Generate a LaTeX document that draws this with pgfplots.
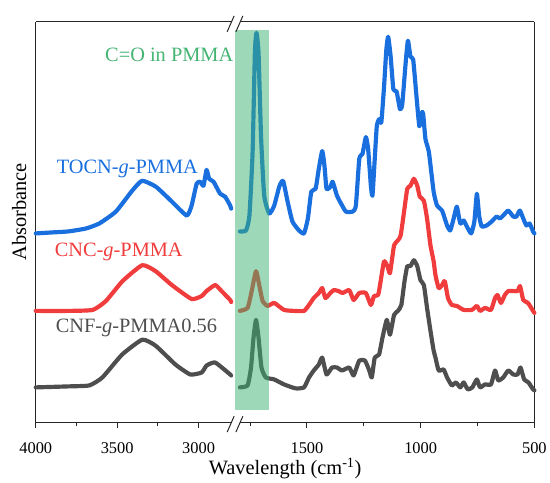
\documentclass[border=0pt]{standalone}
\usepackage{pgfplots}
\pgfplotsset{compat=1.18}
\usepackage{fontspec}
\setmainfont{Liberation Serif}
\usetikzlibrary{calc}

\definecolor{tocn}{RGB}{26,111,223}
\definecolor{cnc}{RGB}{240,60,60}
\definecolor{cnf}{RGB}{78,78,78}
\definecolor{band}{RGB}{60,179,113}
\definecolor{bandtxt}{RGB}{70,180,115}

\newcommand{\lblfont}{\fontsize{20.5}{24}\selectfont}

\pgfplotsset{
  brk/.style={
    scale only axis, height=403pt,
    ymin=0, ymax=403, ytick=\empty,
    x dir=reverse,
    axis x line*=box,
    xtick pos=left, xtick align=outside,
    major tick length=6pt, minor tick length=4pt,
    axis line style={line width=1pt, black!85},
    tick style={line width=1pt, black!85},
    /pgf/number format/1000 sep={},
    /pgf/number format/assume math mode=true,
    xticklabel style={font=\fontsize{16.5}{18}\selectfont, yshift=-11.5pt},
    clip=false,
  },
  spec/.style={line width=4.2pt, line join=round, line cap=round, smooth, tension=0.3},
}

\begin{document}
\begin{tikzpicture}
% left segment, 4000-2780 cm-1
\begin{axis}[brk, name=L, at={(0,0)}, anchor=south west,
  width=200pt, xmin=2780, xmax=4000,
  axis y line*=left,
  xtick={4000,3500,3000}, minor xtick={3750,3250}]
\addplot[spec, tocn] coordinates {
 (4000,190) (3900,191) (3800,192) (3691,195) (3610,200) (3508,212) (3408,233)
 (3347,243) (3262,237) (3164,222) (3073,208) (3043,218) (3012,240) (2990,242)
 (2970,238) (2951,254) (2935,245) (2908,242) (2868,230) (2837,227) (2806,218) (2800,215)
};
\addplot[spec, cnc] coordinates {
 (4000,112) (3800,112) (3650,113) (3569,122) (3467,142) (3346,158) (3264,152)
 (3164,138) (3043,124) (2981,127) (2951,132) (2898,138) (2859,132) (2806,123) (2800,121)
};
\addplot[spec, cnf] coordinates {
 (4000,35) (3800,36) (3671,37) (3591,45) (3470,68) (3346,83) (3264,77) (3142,58)
 (3051,48) (2981,50) (2951,57) (2898,60) (2806,48) (2800,47)
};
\node[anchor=base west, text=tocn, font=\lblfont, inner sep=0pt] at (axis cs:3872,250) {TOCN-\textit{g}-PMMA};
\node[anchor=base west, text=cnc, font=\lblfont, inner sep=0pt] at (axis cs:3884,167) {CNC-\textit{g}-PMMA};
\node[anchor=base west, text=cnf, font=\lblfont, inner sep=0pt] at (axis cs:3878,90) {CNF-\textit{g}-PMMA0.56};
\node[anchor=base east, text=bandtxt, font=\lblfont, inner sep=0pt] at (axis cs:2786,363) {C=O in PMMA};
\end{axis}

% right segment, 1819-500 cm-1
\begin{axis}[brk, name=R, at={(L.south east)}, anchor=south west,
  width=302pt, xmin=500, xmax=1819,
  axis y line*=right,
  xtick={1500,1000,500}, minor xtick={1750,1250,750}]
\addplot[spec, tocn] coordinates {
 (1795,192) (1768,193) (1753,208) (1739,272) (1729,372) (1722,392) (1713,372)
 (1702,288) (1688,228) (1666,210) (1644,218) (1622,237) (1605,243) (1586,223)
 (1564,202) (1535,193) (1513,190) (1496,205) (1481,232) (1462,235) (1448,255)
 (1433,273) (1423,258) (1414,235) (1397,237) (1387,242) (1368,228) (1350,220)
 (1329,212) (1299,212) (1285,218) (1270,265) (1256,270) (1241,287) (1231,275)
 (1219,238) (1212,228) (1202,265) (1193,298) (1183,305) (1173,302) (1161,338)
 (1151,375) (1143,388) (1132,368) (1120,335) (1106,333) (1091,315) (1081,320)
 (1066,362) (1056,384) (1045,368) (1033,365) (1020,332) (1006,298) (995,312)
 (989,310) (979,285) (964,272) (943,232) (928,218) (906,213) (884,198) (870,193)
 (855,205) (841,217) (826,200) (811,203) (797,197) (778,190) (764,202) (753,230)
 (743,208) (732,197) (710,198) (688,202) (666,207) (652,205) (637,208) (615,213)
 (593,207) (579,207) (564,213) (549,205) (535,198) (521,200) (506,192) (500,190)
};
\addplot[spec, cnc] coordinates {
 (1795,112) (1761,115) (1743,132) (1724,152) (1710,138) (1695,122) (1673,117)
 (1644,120) (1601,113) (1557,112) (1513,112) (1491,118) (1470,125) (1448,130)
 (1433,135) (1419,125) (1397,130) (1382,133) (1361,132) (1343,130) (1314,133)
 (1295,123) (1270,130) (1241,130) (1219,118) (1205,127) (1187,128) (1176,142)
 (1161,162) (1146,157) (1135,150) (1117,178) (1100,183) (1088,188) (1073,212)
 (1059,235) (1045,238) (1030,245) (1015,238) (1004,227) (986,223) (972,205)
 (957,178) (943,162) (935,148) (921,135) (906,138) (894,142) (880,125) (863,118)
 (841,117) (811,113) (775,113) (753,117) (739,112) (717,115) (691,113) (673,125)
 (662,128) (647,120) (630,128) (615,132) (593,132) (574,132) (563,137) (549,123)
 (528,120) (506,112) (500,110)
};
\addplot[spec, cnf] coordinates {
 (1795,35) (1761,37) (1746,55) (1735,85) (1724,103) (1713,85) (1700,55) (1681,45)
 (1644,43) (1601,38) (1550,34) (1513,35) (1491,45) (1470,52) (1448,58) (1433,65)
 (1414,48) (1390,55) (1368,55) (1346,52) (1314,55) (1295,47) (1270,62) (1245,62)
 (1226,52) (1215,45) (1202,65) (1183,68) (1168,85) (1149,103) (1135,88) (1117,108)
 (1100,112) (1085,118) (1071,142) (1059,157) (1045,157) (1030,163) (1015,157)
 (1001,143) (986,138) (972,115) (957,92) (943,72) (935,65) (921,52) (899,53)
 (884,45) (863,37) (845,40) (826,35) (811,40) (793,33) (773,35) (753,43) (739,35)
 (717,38) (691,38) (673,52) (659,42) (637,45) (615,52) (593,48) (574,48) (561,55)
 (545,43) (526,40) (506,33) (500,32)
};
% highlighted carbonyl band
\fill[band, fill opacity=0.5] (axis cs:1815,12) rectangle (axis cs:1666,395);
\end{axis}

% axis break marks
\foreach \c in {R.south west, R.north west} {
  \fill[white] ([xshift=-2.5pt, yshift=-2pt]\c) rectangle ([xshift=5.6pt, yshift=2pt]\c);
  \draw[line width=1pt, black!85] ([xshift=-7.3pt, yshift=-10pt]\c) -- ([xshift=-0.3pt, yshift=6pt]\c);
  \draw[line width=1pt, black!85] ([xshift=1.5pt, yshift=-10pt]\c) -- ([xshift=8.5pt, yshift=6pt]\c);
}

\node[anchor=base, font=\lblfont] at ($(L.south west)!0.5!(R.south east)+(0,-53pt)$) {Wavelength (cm\textsuperscript{-1})};
\node[rotate=90, anchor=south, font=\lblfont] at ([xshift=-6pt, yshift=10pt]L.west) {Absorbance};

\path ([xshift=-36pt, yshift=-56pt]L.south west) rectangle ([xshift=12pt, yshift=22pt]R.north east);
\end{tikzpicture}
\end{document}
